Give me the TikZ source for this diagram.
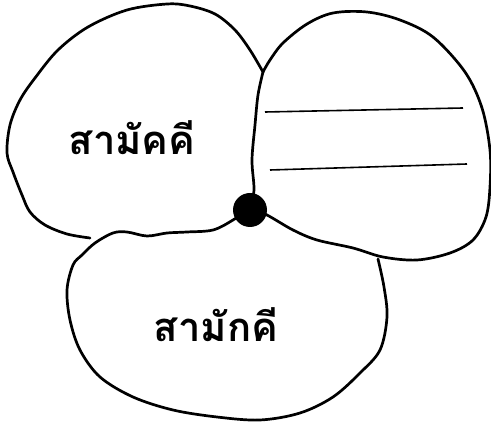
\documentclass[tikz,border=0pt]{standalone}
\usepackage{fontspec}
\newfontfamily\thaifont[Script=Thai]{Loma}
\begin{document}
\begin{tikzpicture}[x=1pt,y=-1pt,
  outline/.style={line width=2.7pt, line join=round, line cap=round},
  blank/.style={line width=1.6pt},
  thailabel/.style={font=\thaifont\bfseries\fontsize{40}{40}\selectfont, inner sep=0pt}]
\useasboundingbox (0,0) rectangle (491,430);
% named points
\coordinate (cusp) at (263,72);
\node[circle, fill=black, minimum size=34pt, inner sep=0pt] (dot) at (250,210) {};
\coordinate (leftend) at (90,238);
% left petal
\draw[outline] plot[smooth, tension=0.55] coordinates {(90,238) (67,234) (45,225) (30,212) (22,195) (13,172) (7,153) (10,125) (20,100) (35,78) (58,50) (88,27) (127,10) (167,4) (190,6) (215,14) (235,30) (250,50) (263,72)};
% dividing line
\draw[outline] plot[smooth, tension=0.55] coordinates {(263,72) (258,95) (255,125) (252,160) (254,190) (250,208)};
% right petal
\draw[outline] plot[smooth, tension=0.55] coordinates {(263,72) (270,60) (283,43) (307,24) (333,13) (367,12) (400,20) (433,37) (465,72) (482,108) (490,150) (490,187) (486,217) (473,240) (450,253) (417,260) (383,257) (353,248) (317,240) (293,230) (267,215) (250,208)};
% bottom petal
\draw[outline] plot[smooth, tension=0.55] coordinates {(250,208) (233,220) (213,230) (187,232) (167,233) (147,236) (127,232) (113,233) (95,243) (82,255) (73,265) (67,290) (70,320) (80,350) (100,377) (133,397) (173,410) (217,417) (260,420) (300,413) (333,397) (360,373) (380,350) (387,317) (384,287) (378,259)};
% blanks
\draw[blank] (265,112) -- (463,108);
\draw[blank] (270,170) -- (467,164);
% labels
\node[thailabel] (lbl1) at (132,138) {สามัคคี};
\node[thailabel] (lbl2) at (216,325) {สามักคี};
\end{tikzpicture}
\end{document}
